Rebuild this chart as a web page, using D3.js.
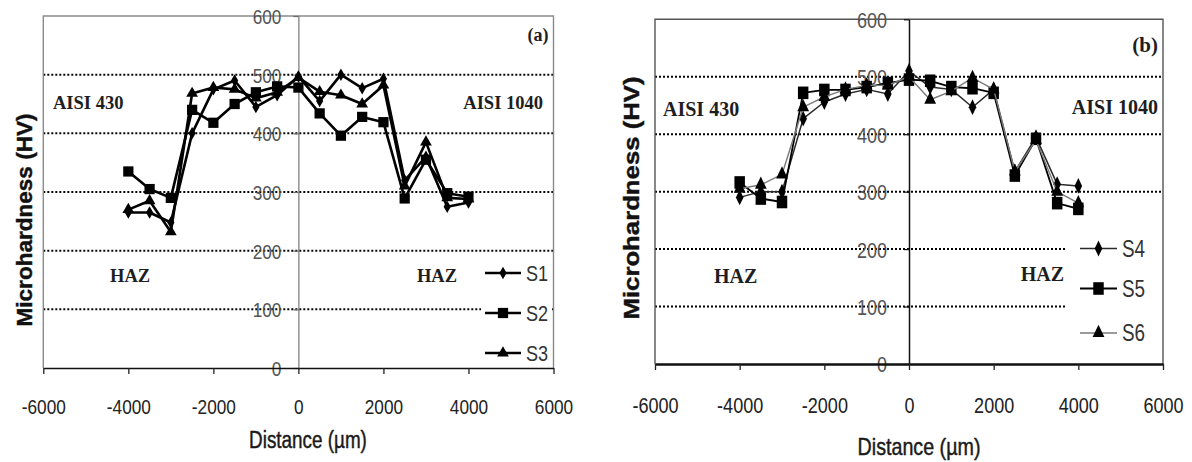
<!DOCTYPE html>
<html>
<head>
<meta charset="utf-8">
<script src="https://cdn.jsdelivr.net/npm/d3@7"></script>
<style>
  body { margin: 0; background: #fff; }
  svg { display: block; }
</style>
</head>
<body>
<svg id="fig" width="1192" height="462"></svg>
<script>
// Measurement positions across the weld (µm)
const distance = [-4000, -3500, -3000, -2500, -2000, -1500, -1000, -500, 0, 500, 1000, 1500, 2000, 2500, 3000, 3500, 4000];

// Panel (a): microhardness profiles, HV
const hvS1 = [265, 265, 248, 400, 475, 490, 445, 465, 497, 455, 500, 477, 493, 320, 360, 275, 282];
const hvS2 = [335, 305, 290, 440, 418, 450, 470, 480, 478, 434, 396, 428, 419, 289, 355, 298, 292];
const hvS3 = [270, 285, 232, 468, 478, 475, 460, 470, 495, 471, 465, 450, 482, 310, 385, 290, 288];

// Panel (b): microhardness profiles, HV
const hvS4 = [290, 300, 300, 427, 456, 470, 478, 470, 510, 482, 478, 447, 478, 335, 395, 313, 310];
const hvS5 = [316, 288, 282, 472, 477, 477, 482, 489, 495, 493, 482, 480, 472, 328, 392, 280, 270];
const hvS6 = [305, 312, 330, 447, 465, 478, 485, 485, 500, 460, 475, 498, 478, 335, 390, 300, 280];

const xTickValues = [-6000, -4000, -2000, 0, 2000, 4000, 6000];
const yTickValues = [0, 100, 200, 300, 400, 500, 600];
const gridValues = [100, 200, 300, 400, 500];

const SERIF = '"Liberation Serif","Times New Roman",serif';
const SANS = '"Liberation Sans",Arial,sans-serif';
// condensed sans: regular sans squeezed horizontally after layout
const NARROW_FACTOR = 0.82;

const svg = d3.select("#fig");
svg.append("rect").attr("width", 1192).attr("height", 462).attr("fill", "#fff");

const symbolTypes = { diamond: d3.symbolDiamond, square: d3.symbolSquare, triangle: d3.symbolTriangle };

function drawPanel(p) {
  const x = d3.scaleLinear().domain([-6000, 6000]).range([p.left, p.right]);
  const y = d3.scaleLinear().domain([0, 600]).range([p.bottom, p.top]);
  const g = svg.append("g");

  // dotted horizontal gridlines
  g.append("g").selectAll("line").data(gridValues).join("line")
    .attr("x1", p.left).attr("x2", p.right)
    .attr("y1", d => y(d)).attr("y2", d => y(d))
    .attr("stroke", "#000").attr("stroke-width", 2)
    .attr("stroke-dasharray", "2,2");

  // legend backdrop hides the gridlines behind the key
  g.append("rect")
    .attr("x", p.legendBox[0]).attr("y", p.legendBox[1])
    .attr("width", p.legendBox[2]).attr("height", p.legendBox[3])
    .attr("fill", "#fff");

  // plot frame (left, top, right)
  g.append("path")
    .attr("d", `M${p.left},${p.bottom}V${p.top}H${p.right}V${p.bottom}`)
    .attr("fill", "none").attr("stroke", p.frameColor).attr("stroke-width", 1.4);

  // vertical axis drawn through x = 0
  const yAxis = d3.axisLeft(y).tickValues(yTickValues).tickSize(5).tickSizeOuter(0)
    .tickPadding(p.yPad).tickFormat(d => String(d));
  g.append("g").attr("transform", `translate(${x(0)},0)`).call(yAxis)
    .call(a => a.select(".domain").attr("stroke", p.zeroColor).attr("stroke-width", p.zeroWidth))
    .call(a => a.selectAll(".tick line").attr("stroke", p.zeroColor).attr("stroke-width", 1.2))
    .call(a => a.selectAll("text").classed("narrow", true)
      .attr("font-family", SANS).attr("font-size", p.yFont)
      .attr("fill", "#555").attr("dy", "0.36em"));

  // horizontal axis
  const xAxis = d3.axisBottom(x).tickValues(xTickValues).tickSize(6).tickSizeOuter(0)
    .tickPadding(p.xPad).tickFormat(d => String(d));
  g.append("g").attr("transform", `translate(0,${p.bottom})`).call(xAxis)
    .call(a => a.select(".domain").attr("stroke", "#111").attr("stroke-width", p.baseWidth))
    .call(a => a.selectAll(".tick line").attr("stroke", "#222").attr("stroke-width", 1.3))
    .call(a => a.selectAll("text").classed("narrow", true)
      .attr("font-family", SANS).attr("font-size", p.xFont).attr("fill", "#222"));

  // series lines and markers
  const line = d3.line().x(d => x(d.x)).y(d => y(d.v));
  p.series.forEach(s => {
    const pts = distance.map((d, i) => ({ x: d, v: s.values[i] }));
    g.append("path").datum(pts).attr("d", line)
      .attr("fill", "none").attr("stroke", s.lineColor).attr("stroke-width", s.lineWidth)
      .attr("stroke-linejoin", "round");
    const sym = d3.symbol().type(symbolTypes[s.marker]).size(s.size);
    g.append("g").selectAll("path").data(pts).join("path")
      .attr("d", sym)
      .attr("transform", d => `translate(${x(d.x)},${y(d.v)}) scale(1,${p.markerStretch})`)
      .attr("fill", "#000");
  });

  // legend entries
  p.series.forEach((s, i) => {
    const ly = p.legendY[i];
    const lg = g.append("g");
    lg.append("line").attr("x1", p.legendX[0]).attr("x2", p.legendX[1])
      .attr("y1", ly).attr("y2", ly)
      .attr("stroke", s.lineColor).attr("stroke-width", s.lineWidth);
    lg.append("path")
      .attr("d", d3.symbol().type(symbolTypes[s.marker]).size(s.size))
      .attr("transform", `translate(${(p.legendX[0] + p.legendX[1]) / 2},${ly}) scale(1,${p.markerStretch})`)
      .attr("fill", "#000");
    lg.append("text").classed("narrow", true)
      .attr("x", p.legendX[1] + 5).attr("y", ly).attr("dy", "0.36em")
      .attr("font-family", SANS).attr("font-size", p.legendFont).attr("fill", "#333")
      .text(s.name);
  });

  // region labels
  const serif = (tx, ty, str, anchor, size) =>
    g.append("text").attr("x", tx).attr("y", ty).attr("text-anchor", anchor)
      .attr("font-family", SERIF).attr("font-weight", "bold").attr("font-size", size)
      .attr("fill", "#1e1e1e").text(str);
  p.labels.forEach(l => serif(l.x, l.y, l.text, l.anchor, l.size));

  // axis titles
  g.append("text")
    .attr("transform", `translate(${p.yTitle.x},${p.yTitle.y}) rotate(-90)`)
    .attr("text-anchor", "middle")
    .attr("font-family", SANS).attr("font-weight", "bold").attr("font-size", p.yTitle.size)
    .attr("textLength", p.yTitle.len).attr("lengthAdjust", "spacingAndGlyphs")
    .attr("fill", "#111").attr("stroke", "#111").attr("stroke-width", 0.4)
    .text("Microhardness  (HV)");
  g.append("text").classed("narrow", true)
    .attr("x", p.xTitle.x).attr("y", p.xTitle.y).attr("text-anchor", "middle")
    .attr("font-family", SANS).attr("font-size", p.xTitle.size)
    .attr("fill", "#1a1a1a").attr("stroke", "#1a1a1a").attr("stroke-width", 0.45)
    .text("Distance (µm)");
}

drawPanel({
  left: 43.3, right: 553.5, top: 16, bottom: 368,
  frameColor: "#8a8a8a", zeroColor: "#6a6a6a", zeroWidth: 1.1, baseWidth: 1.6,
  yPad: 12, xPad: 25, yFont: 21, xFont: 21, legendFont: 22, markerStretch: 1,
  legendBox: [481, 258, 71, 108],
  legendX: [485, 521], legendY: [273, 313, 353],
  series: [
    { name: "S1", values: hvS1, marker: "diamond", size: 45, lineColor: "#000", lineWidth: 2.6 },
    { name: "S2", values: hvS2, marker: "square", size: 105, lineColor: "#000", lineWidth: 2.6 },
    { name: "S3", values: hvS3, marker: "triangle", size: 60, lineColor: "#000", lineWidth: 2.6 }
  ],
  labels: [
    { x: 548.5, y: 41, text: "(a)", anchor: "end", size: 18 },
    { x: 53, y: 109, text: "AISI 430", anchor: "start", size: 18.5 },
    { x: 543, y: 109, text: "AISI 1040", anchor: "end", size: 18.5 },
    { x: 110, y: 282, text: "HAZ", anchor: "start", size: 18.5 },
    { x: 457, y: 282, text: "HAZ", anchor: "end", size: 18.5 }
  ],
  yTitle: { x: 32, y: 220, size: 22, len: 213 },
  xTitle: { x: 308, y: 448, size: 23 }
});

drawPanel({
  left: 655, right: 1163, top: 19.3, bottom: 364,
  frameColor: "#555", zeroColor: "#111", zeroWidth: 1.5, baseWidth: 2.4,
  yPad: 17, xPad: 27, yFont: 22, xFont: 22, legendFont: 23, markerStretch: 1.2,
  legendBox: [1066, 228, 95, 130],
  legendX: [1080, 1117], legendY: [248.5, 288.5, 333],
  series: [
    { name: "S4", values: hvS4, marker: "diamond", size: 50, lineColor: "#2a2a2a", lineWidth: 1.5 },
    { name: "S5", values: hvS5, marker: "square", size: 110, lineColor: "#000", lineWidth: 1.8 },
    { name: "S6", values: hvS6, marker: "triangle", size: 60, lineColor: "#7a7a7a", lineWidth: 1.4 }
  ],
  labels: [
    { x: 1158, y: 52, text: "(b)", anchor: "end", size: 21 },
    { x: 663, y: 116, text: "AISI 430", anchor: "start", size: 20 },
    { x: 1158, y: 114, text: "AISI 1040", anchor: "end", size: 20 },
    { x: 714, y: 283, text: "HAZ", anchor: "start", size: 20 },
    { x: 1064, y: 281, text: "HAZ", anchor: "end", size: 20 }
  ],
  yTitle: { x: 639, y: 198, size: 22, len: 243 },
  xTitle: { x: 919, y: 455, size: 24 }
});

// squeeze the sans labels into a condensed width
svg.selectAll("text.narrow").each(function () {
  const w = this.getComputedTextLength();
  d3.select(this).attr("textLength", (w * NARROW_FACTOR).toFixed(1))
    .attr("lengthAdjust", "spacingAndGlyphs");
});
</script>
</body>
</html>
